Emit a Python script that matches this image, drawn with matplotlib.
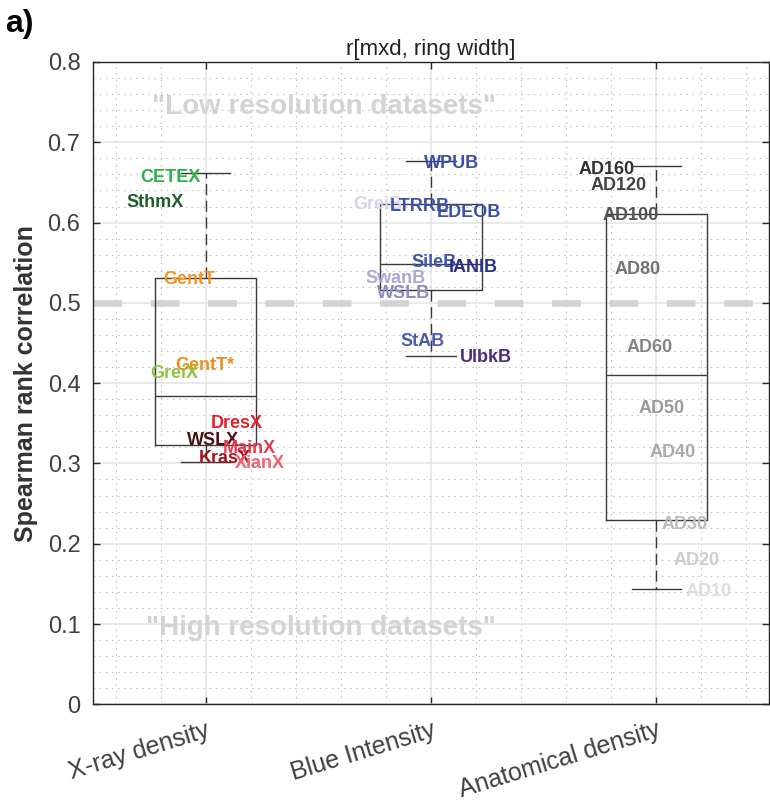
import matplotlib
matplotlib.use("Agg")
import matplotlib.pyplot as plt
from matplotlib.ticker import MultipleLocator

plt.rcParams['font.family'] = ['Liberation Sans', 'DejaVu Sans']

# box statistics (x-ray, blue intensity, anatomical)
categories = ['X-ray density', 'Blue Intensity', 'Anatomical density']
whis_lo = [0.302, 0.434, 0.143]
q1 = [0.323, 0.516, 0.229]
med = [0.384, 0.549, 0.410]
q3 = [0.531, 0.623, 0.611]
whis_hi = [0.662, 0.677, 0.670]

# dataset labels: name, correlation, label x position, colour
xray_names = ['CETEX', 'SthmX', 'GentT', 'GentT*', 'GreiX',
              'DresX', 'WSLX', 'MainX', 'KrasX', 'XianX']
xray_vals = [0.659, 0.628, 0.531, 0.425, 0.415, 0.352, 0.331, 0.321, 0.309, 0.302]
xray_xpos = [0.709, 0.650, 0.812, 0.864, 0.756, 1.024, 0.919, 1.076, 0.970, 1.130]
xray_cols = ['#2bb04a', '#1f5d2a', '#f7931e', '#f28a1c', '#8dc63f',
             '#e0202a', '#4d1010', '#e8384f', '#a3141d', '#f06070']

blue_names = ['WPUB', 'GreiB', 'LTRRB', 'EDEOB', 'SileB',
              'IANIB', 'SwanB', 'WSLB', 'StAB', 'UlbkB']
blue_vals = [0.676, 0.625, 0.623, 0.615, 0.553, 0.546, 0.533, 0.514, 0.454, 0.434]
blue_xpos = [1.970, 1.653, 1.815, 2.026, 1.915, 2.077, 1.707, 1.759, 1.863, 2.129]
blue_cols = ['#3c50a8', '#d5d5ec', '#3f51a8', '#3a4fa6', '#4055b0',
             '#2c2f8f', '#a9a9d8', '#8b8bc6', '#4a5cb5', '#4b2c7e']

ad_names = ['AD160', 'AD120', 'AD100', 'AD80', 'AD60',
            'AD50', 'AD40', 'AD30', 'AD20', 'AD10']
ad_vals = [0.669, 0.649, 0.611, 0.544, 0.447, 0.371, 0.316, 0.227, 0.182, 0.143]
ad_xpos = [2.654, 2.706, 2.762, 2.814, 2.866, 2.920, 2.972, 3.024, 3.076, 3.128]
ad_cols = ['#333333', '#444444', '#555555', '#737373', '#858585',
           '#999999', '#aaaaaa', '#bbbbbb', '#cccccc', '#dddddd']

fig = plt.figure(figsize=(7.7, 8.02), dpi=100)
ax = fig.add_axes([93 / 770, 1 - 704.3 / 802, 676 / 770, 642.3 / 802])

ax.set_xlim(0.5, 3.5)
ax.set_ylim(0, 0.8)

# grid
ax.xaxis.set_major_locator(MultipleLocator(1))
ax.xaxis.set_minor_locator(MultipleLocator(0.2))
ax.yaxis.set_major_locator(MultipleLocator(0.1))
ax.yaxis.set_minor_locator(MultipleLocator(0.02))
ax.grid(which='major', color='#e3e3e3', lw=1.1, zorder=0)
ax.grid(which='minor', color='#c4c4c4', lw=0.8, ls=(0, (1.5, 4)), zorder=0)
ax.set_axisbelow(True)

# threshold line
ax.axhline(0.5, color='#d3d3d3', lw=4.8, dashes=(4.3, 4.3),
           dash_capstyle='butt', zorder=1)

stats = []
for i in range(3):
    stats.append(dict(med=med[i], q1=q1[i], q3=q3[i],
                      whislo=whis_lo[i], whishi=whis_hi[i], fliers=[]))
ax.bxp(stats, positions=[1, 2, 3], widths=0.45, capwidths=0.22,
       showfliers=False,
       boxprops=dict(color='#3a3a3a', lw=1.0),
       medianprops=dict(color='#3a3a3a', lw=1.0),
       whiskerprops=dict(color='#3a3a3a', lw=1.0, ls=(0, (8, 4))),
       capprops=dict(color='#3a3a3a', lw=1.0))

for names, vals, xs, cols in [(xray_names, xray_vals, xray_xpos, xray_cols),
                              (blue_names, blue_vals, blue_xpos, blue_cols),
                              (ad_names, ad_vals, ad_xpos, ad_cols)]:
    for n, v, x, c in zip(names, vals, xs, cols):
        ax.text(x, v, n, color=c, fontsize=13, fontweight='bold',
                ha='left', va='center_baseline', zorder=5)

ax.text(1.525, 0.748, '"Low resolution datasets"', color='#d3d3d3',
        fontsize=20, fontweight='bold', ha='center', va='center_baseline')
ax.text(1.512, 0.099, '"High resolution datasets"', color='#d3d3d3',
        fontsize=20, fontweight='bold', ha='center', va='center_baseline')

ax.set_xticks([1, 2, 3])
ax.set_xticklabels(categories, rotation=17, ha='right', rotation_mode='anchor')
ax.set_yticks([0, 0.1, 0.2, 0.3, 0.4, 0.5, 0.6, 0.7, 0.8])
ax.set_yticklabels(['0', '0.1', '0.2', '0.3', '0.4', '0.5', '0.6', '0.7', '0.8'])
ax.tick_params(which='major', direction='in', length=5, width=1,
               color='#262626', labelsize=17, labelcolor='#404040',
               top=True, right=True)
ax.tick_params(axis='x', which='major', pad=10, labelsize=18)
ax.tick_params(axis='y', which='major', pad=9)
ax.tick_params(which='minor', length=0)
for s in ax.spines.values():
    s.set_color('#262626')
    s.set_linewidth(1.0)

ax.set_ylabel('Spearman rank correlation', fontsize=18, fontweight='bold',
              color='#333333', labelpad=7)
ax.set_title('r[mxd, ring width]', fontsize=16, color='#222222', pad=5)
fig.text(5 / 770, 1 - 24 / 802, 'a)', fontsize=23, fontweight='bold',
         ha='left', va='center')

fig.savefig('out.png', dpi=100)
